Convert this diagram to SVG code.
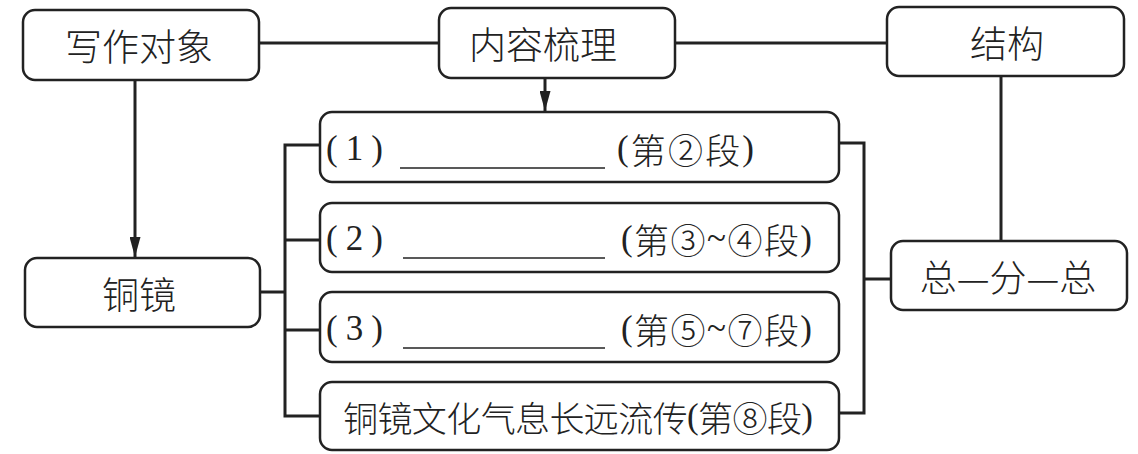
<svg xmlns="http://www.w3.org/2000/svg" width="1138" height="454" viewBox="0 0 1138 454">
  <defs>
    <marker id="arrowL" viewBox="0 0 20 10" refX="20" refY="5" markerWidth="20" markerHeight="11" markerUnits="userSpaceOnUse" orient="auto" preserveAspectRatio="none">
      <path d="M0,0 L20,5 L0,10 z" fill="#222"/>
    </marker>
  </defs>
  <style>
    .box { fill: #fff; stroke: #222; stroke-width: 2.5; }
    .conn { fill: none; stroke: #222; stroke-width: 3; }
    .lbl { font-family: "Noto Sans CJK SC", "Noto Sans", sans-serif; font-size: 37px; fill: #222; text-anchor: middle; dominant-baseline: central; font-weight: 300; }
    .row { font-family: "Liberation Serif", "Noto Sans CJK SC", serif; font-size: 35px; fill: #222; dominant-baseline: central; }
    .cjk { font-family: "Noto Sans CJK SC", sans-serif; font-weight: 300; }
    .blank { stroke: #222; stroke-width: 1.5; }
  </style>
  <rect width="1138" height="454" fill="#fff"/>

  <g id="connectors">
    <line class="conn" x1="259" y1="43" x2="439" y2="43"/>
    <line class="conn" x1="675" y1="43" x2="887" y2="43"/>
    <line class="conn" x1="1001" y1="76" x2="1001" y2="241"/>
    <line class="conn" x1="135" y1="80" x2="135" y2="257" marker-end="url(#arrowL)"/>
    <line class="conn" x1="545" y1="78" x2="545" y2="111" marker-end="url(#arrowL)"/>
    <path class="conn" d="M260,292 H285 M320,145 H285 V416 H320 M285,240 H320 M285,330 H320"/>
    <path class="conn" d="M839,143 H864 V413 H839 M864,279 H891"/>
  </g>

  <g id="node-xiezuoduixiang">
    <rect class="box" x="23" y="10" width="236" height="70" rx="12"/>
    <text class="lbl" x="139" y="45">写作对象</text>
  </g>
  <g id="node-neirongshuli">
    <rect class="box" x="439" y="8" width="236" height="70" rx="12"/>
    <text class="lbl" x="543" y="43">内容梳理</text>
  </g>
  <g id="node-jiegou">
    <rect class="box" x="887" y="7" width="237" height="69" rx="12"/>
    <text class="lbl" x="1007" y="42">结构</text>
  </g>
  <g id="node-tongjing">
    <rect class="box" x="25" y="258" width="235" height="69" rx="12"/>
    <text class="lbl" x="139" y="293">铜镜</text>
  </g>
  <g id="node-zongfenzong">
    <rect class="box" x="891" y="241" width="236" height="69" rx="12"/>
    <text class="lbl" x="1008" y="276">总—分—总</text>
  </g>

  <g id="node-row1">
    <rect class="box" x="320" y="112" width="519" height="70" rx="12"/>
    <text class="row" x="326" y="148" textLength="57" lengthAdjust="spacing">( 1 )</text>
    <line class="blank" x1="400" y1="168" x2="605" y2="168"/>
    <text class="row" x="617" y="148" textLength="137" lengthAdjust="spacing">(<tspan class="cjk">第②段</tspan>)</text>
  </g>
  <g id="node-row2">
    <rect class="box" x="320" y="203" width="519" height="69" rx="12"/>
    <text class="row" x="326" y="238" textLength="57" lengthAdjust="spacing">( 2 )</text>
    <line class="blank" x1="403" y1="258" x2="605" y2="258"/>
    <text class="row" x="621" y="238" textLength="191" lengthAdjust="spacing">(<tspan class="cjk">第③</tspan>~<tspan class="cjk">④段</tspan>)</text>
  </g>
  <g id="node-row3">
    <rect class="box" x="320" y="292" width="519" height="70" rx="12"/>
    <text class="row" x="326" y="328" textLength="57" lengthAdjust="spacing">( 3 )</text>
    <line class="blank" x1="403" y1="348" x2="605" y2="348"/>
    <text class="row" x="621" y="328" textLength="191" lengthAdjust="spacing">(<tspan class="cjk">第⑤</tspan>~<tspan class="cjk">⑦段</tspan>)</text>
  </g>
  <g id="node-row4">
    <rect class="box" x="320" y="382" width="519" height="68" rx="12"/>
    <text class="row" x="343" y="416" textLength="470" lengthAdjust="spacing"><tspan class="cjk">铜镜文化气息长远流传</tspan>(<tspan class="cjk">第⑧段</tspan>)</text>
  </g>
</svg>
